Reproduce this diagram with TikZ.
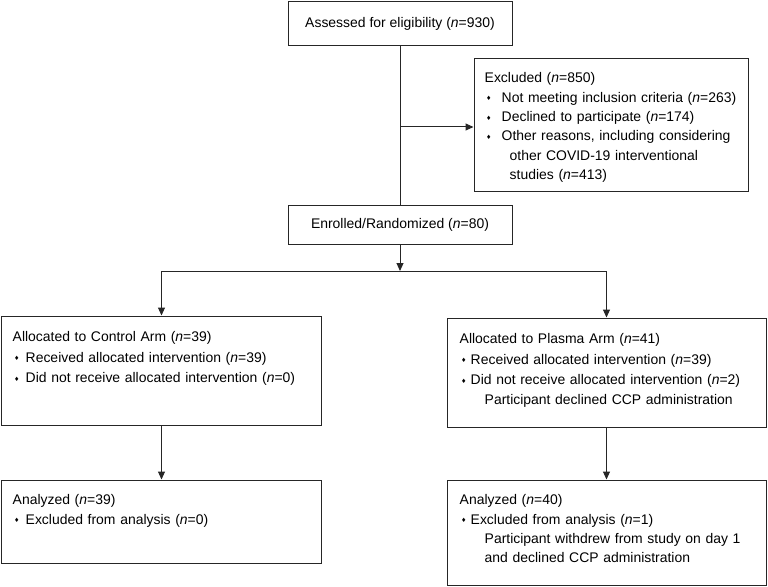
\documentclass[tikz,border=0pt]{standalone}
\usepackage{fontspec}
\setmainfont{Liberation Sans}
\newfontfamily\symfont{DejaVu Sans}
\usetikzlibrary{arrows.meta}
\newcommand\nn{\textit{n}}
\newcommand\bul[1]{\makebox[#1][l]{\hspace{1.5bp}\raisebox{1.4bp}{\symfont\fontsize{6}{6}\selectfont ♦}}}
\begin{document}
\begin{tikzpicture}[x=1bp,y=-1bp,
  box/.style={draw=black!85, line width=1bp, inner sep=0, font=\fontsize{14}{19.5}\selectfont},
  txt/.style={anchor=north west, inner sep=0, align=left, text width=320bp, font=\fontsize{14}{19.5}\selectfont},
  conn/.style={draw=black!85, line width=1bp},
  arr/.style={conn, -{Triangle[length=8bp,width=7bp]}}]
\useasboundingbox (0,0) rectangle (768,587);

\node[box, minimum width=224bp, minimum height=44bp] (assess) at (400,24) {Assessed for eligibility (\nn=930)};
\node[box, minimum width=274bp, minimum height=132bp] (excl) at (611,125) {};
\node[txt] (excltxt) at ([shift={(11,10.4)}]excl.north west) {\strut Excluded (\nn=850)\\
\bul{17bp}Not meeting inclusion criteria (\nn=263)\\
\bul{17bp}Declined to participate (\nn=174)\\
\bul{17bp}Other reasons, including considering\\
\hspace*{25bp}other COVID-19 interventional\\
\hspace*{25bp}studies (\nn=413)};
\node[box, minimum width=224bp, minimum height=38bp] (enrol) at (400,225) {Enrolled/Randomized (\nn=80)};

\node[box, minimum width=319bp, minimum height=109bp] (ctrl) at (161.5,370.5) {};
\node[txt, font=\fontsize{14}{20.5}\selectfont] (ctrltxt) at ([shift={(11,11.7)}]ctrl.north west) {\strut Allocated to Control Arm (\nn=39)\\
\bul{13bp}Received allocated intervention (\nn=39)\\
\bul{13bp}Did not receive allocated intervention (\nn=0)};

\node[box, minimum width=319bp, minimum height=109bp] (plas) at (606.5,372.5) {};
\node[txt, font=\fontsize{14}{20.5}\selectfont] (plastxt) at ([shift={(13,11.7)}]plas.north west) {\strut Allocated to Plasma Arm (\nn=41)\\
\bul{11bp}Received allocated intervention (\nn=39)\\
\bul{11bp}Did not receive allocated intervention (\nn=2)\\
\hspace*{25bp}Participant declined CCP administration};

\node[box, minimum width=319bp, minimum height=83bp] (ctrlA) at (161.5,521.5) {};
\node[txt] (ctrlAtxt) at ([shift={(11,11.4)}]ctrlA.north west) {\strut Analyzed (\nn=39)\\
\bul{13bp}Excluded from analysis (\nn=0)};

\node[box, minimum width=319bp, minimum height=105bp] (plasA) at (606.5,532.5) {};
\node[txt] (plasAtxt) at ([shift={(13,11.4)}]plasA.north west) {\strut Analyzed (\nn=40)\\
\bul{11bp}Excluded from analysis (\nn=1)\\
\hspace*{25bp}Participant withdrew from study on day 1\\
\hspace*{25bp}and declined CCP administration};

\coordinate (side) at (400,127);
\coordinate (split) at (400,271);
\draw[conn] (assess) -- (enrol);
\draw[arr] (side) -- (side -| excl.west);
\draw[arr] (enrol) -- (split);
\draw[arr] (split) -| (ctrl);
\draw[arr] (split) -| (plas);
\draw[arr] (ctrl) -- (ctrlA);
\draw[arr] (plas) -- (plasA);
\end{tikzpicture}
\end{document}
